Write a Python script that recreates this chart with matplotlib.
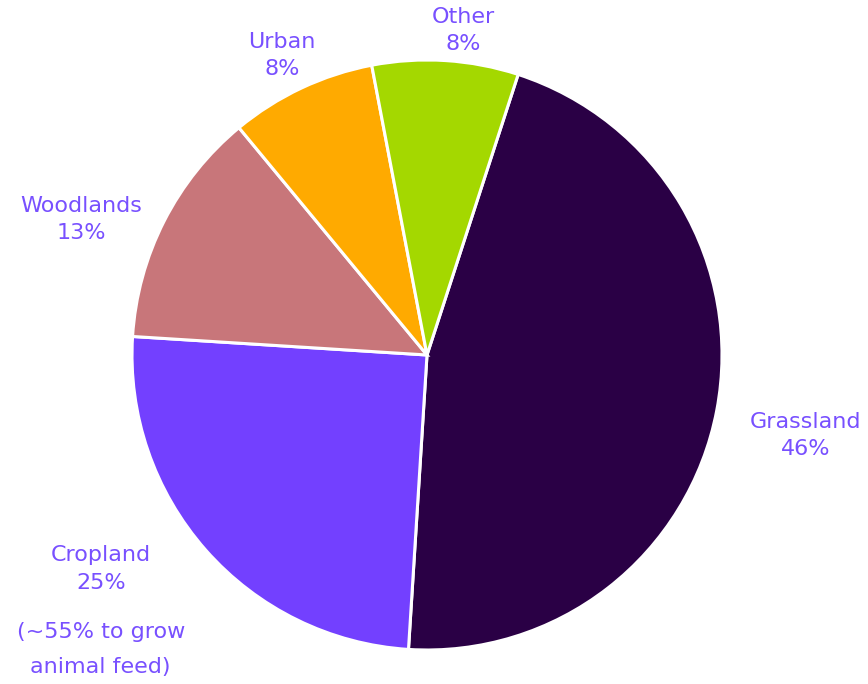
import matplotlib
matplotlib.use("Agg")
import matplotlib.pyplot as plt

# land use shares, clockwise from the top right
categories = ["Grassland", "Cropland", "Woodlands", "Urban", "Other"]
shares = [46, 25, 13, 8, 8]
colors = ["#2a0045", "#7340ff", "#c8767a", "#ffaa00", "#a4d800"]
note = "(~55% to grow\nanimal feed)"

# label anchor points in axes fraction (x, y)
label_pos = {
    "Grassland": (0.928, 0.363),
    "Cropland": (0.116, 0.168),
    "Woodlands": (0.094, 0.679),
    "Urban": (0.325, 0.919),
    "Other": (0.534, 0.955),
}
text_color = "#7850ff"

W, H = 868, 684
cx, cy, R = 427, 355, 295

fig = plt.figure(figsize=(W / 100, H / 100), dpi=100)
ax = fig.add_axes([0, 0, 1, 1])
ax.pie(shares, colors=colors, startangle=72, counterclock=False,
       radius=1, center=(0, 0),
       wedgeprops=dict(edgecolor="white", linewidth=2.2))
ax.set_xlim(-cx / R, (W - cx) / R)
ax.set_ylim(-(H - cy) / R, cy / R)
ax.set_aspect("equal")
ax.axis("off")

for name, val in zip(categories, shares):
    x, y = label_pos[name]
    ax.text(x, y, f"{name}\n{val}%", transform=ax.transAxes,
            ha="center", va="center", fontsize=16, color=text_color,
            linespacing=1.45)

ax.text(0.116, 0.050, note, transform=ax.transAxes, ha="center", va="center",
        fontsize=16, color=text_color, linespacing=1.95)

fig.savefig("out.png", dpi=100)
